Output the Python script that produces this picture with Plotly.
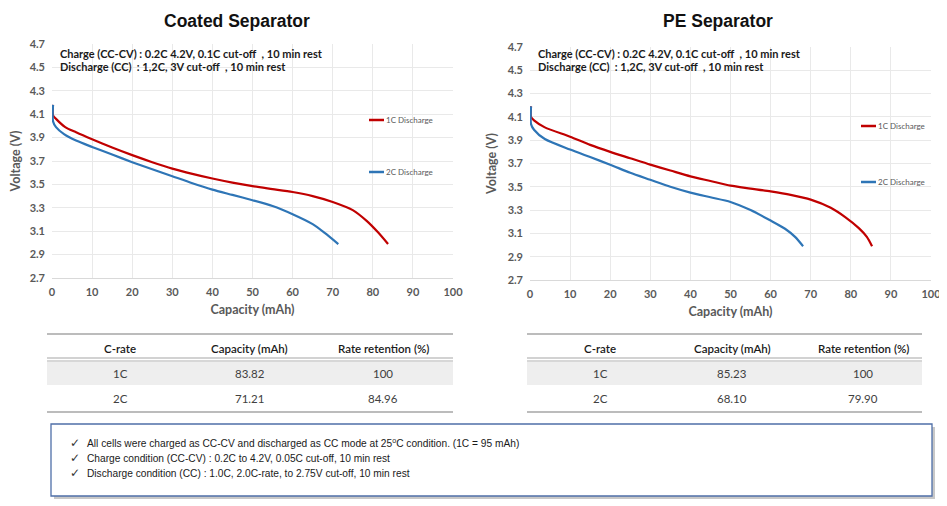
import plotly.graph_objects as go

W, H = 947, 506
OFF = 8  # default page body margin of the html page

# ---------------- data ----------------
coated_1c_cap = [0.25, 0.25, 1, 3.3, 6, 10, 15, 20, 25, 30, 35, 40, 45, 50, 55, 60, 65, 70, 75, 78.4, 81.3, 83.8]
coated_1c_v = [4.18, 4.09, 4.06, 3.99, 3.945, 3.885, 3.815, 3.75, 3.69, 3.635, 3.59, 3.55, 3.515, 3.485, 3.46, 3.435, 3.40, 3.35, 3.28, 3.19, 3.09, 2.99]
coated_2c_cap = [0.25, 0.25, 1, 3, 6, 10, 15, 20, 25, 30, 35, 40, 45, 50, 55, 60, 65, 68, 71.4]
coated_2c_v = [4.18, 4.04, 3.99, 3.93, 3.875, 3.82, 3.755, 3.69, 3.63, 3.57, 3.51, 3.455, 3.41, 3.365, 3.315, 3.245, 3.16, 3.085, 2.99]

pe_1c_cap = [0.25, 0.25, 1, 3.7, 10, 15, 20, 25, 30, 35, 40, 45, 50, 55, 60, 65, 70, 75, 78.6, 82, 84, 85.3]
pe_1c_v = [4.19, 4.10, 4.07, 4.01, 3.93, 3.86, 3.80, 3.745, 3.69, 3.64, 3.59, 3.55, 3.51, 3.485, 3.46, 3.43, 3.39, 3.32, 3.24, 3.145, 3.07, 2.99]
pe_2c_cap = [0.25, 0.25, 1, 3.7, 10, 15, 20, 25, 30, 35, 40, 45, 50, 55, 60, 63.6, 66.1, 68.1]
pe_2c_v = [4.19, 4.04, 3.99, 3.91, 3.82, 3.755, 3.69, 3.62, 3.56, 3.50, 3.45, 3.41, 3.37, 3.30, 3.21, 3.14, 3.07, 2.99]

panel_titles = ["Coated Separator", "PE Separator"]
series_names = ["1C Discharge", "2C Discharge"]
cond_lines = ["Charge (CC-CV) : 0.2C 4.2V, 0.1C cut-off  , 10 min rest",
              "Discharge (CC)  : 1,2C, 3V cut-off  , 10 min rest"]

x_ticks = [0, 10, 20, 30, 40, 50, 60, 70, 80, 90, 100]
y_ticks = [2.7, 2.9, 3.1, 3.3, 3.5, 3.7, 3.9, 4.1, 4.3, 4.5, 4.7]

table_header = ["C-rate", "Capacity (mAh)", "Rate retention (%)"]
table_rates = ["1C", "2C"]
coated_capacity = ["83.82", "71.21"]
coated_retention = ["100", "84.96"]
pe_capacity = ["85.23", "68.10"]
pe_retention = ["100", "79.90"]

notes = ["All cells were charged as CC-CV and discharged as CC mode at 25<sup>o</sup>C condition. (1C = 95 mAh)",
         "Charge condition (CC-CV) : 0.2C to 4.2V, 0.05C cut-off, 10 min rest",
         "Discharge condition (CC) : 1.0C, 2.0C-rate, to 2.75V cut-off, 10 min rest"]

RED = "#c00000"
BLUE = "#2e75b6"
GRAY = "#595959"
CHART_FONT = "Lato, Open Sans, sans-serif"

FW, FH = W - OFF, H - OFF


def px(x):
    return (x - OFF) / FW


def py(y):
    return 1 - (y - OFF) / FH


fig = go.Figure()

panels = [
    dict(xa="x", ya="y", xd=(52, 453), yd=(44, 278), data=[(coated_1c_cap, coated_1c_v), (coated_2c_cap, coated_2c_v)],
         title_x=237, leg_x=369, leg_y=(120, 172), txt_x=58,
         table_x=(47, 453), cols=(120, 250, 383), cap=coated_capacity, ret=coated_retention),
    dict(xa="x2", ya="y2", xd=(530, 931), yd=(47, 280), data=[(pe_1c_cap, pe_1c_v), (pe_2c_cap, pe_2c_v)],
         title_x=718, leg_x=861, leg_y=(126, 182), txt_x=536,
         table_x=(527, 922), cols=(600, 732, 863), cap=pe_capacity, ret=pe_retention),
]

shapes = []
annotations = []

for i, p in enumerate(panels):
    for (cx, cv), color in zip(p["data"], [RED, BLUE]):
        fig.add_trace(go.Scatter(x=cx, y=cv, mode="lines", xaxis=p["xa"], yaxis=p["ya"],
                                 line=dict(color=color, width=2.2, shape="spline", smoothing=0.7),
                                 showlegend=False, hoverinfo="skip"))
    sfx = "" if i == 0 else "2"
    common_ax = dict(showgrid=True, gridcolor="#e9e9e9", gridwidth=1, zeroline=False, automargin=False,
                     tickfont=dict(family=CHART_FONT, size=11, color=GRAY, weight="bold"),
                     ticks="")
    fig.update_layout(**{
        "xaxis" + sfx: dict(domain=[px(p["xd"][0]), px(p["xd"][1])], range=[0, 100], tickvals=x_ticks,
                            anchor="y" + sfx, showline=True, linecolor="#d9d9d9", linewidth=1,
                            ticklabelstandoff=4,
                            title=dict(text="Capacity (mAh)", standoff=8,
                                       font=dict(family=CHART_FONT, size=12.5, color=GRAY, weight="bold")),
                            **common_ax),
        "yaxis" + sfx: dict(domain=[py(p["yd"][1]), py(p["yd"][0])], range=[2.7, 4.7], tickvals=y_ticks,
                            tickformat=".1f", anchor="x" + sfx, ticklabelstandoff=6, showline=False,
                            title=dict(text="Voltage (V)", standoff=8,
                                       font=dict(family=CHART_FONT, size=12.5, color=GRAY, weight="bold")),
                            **common_ax),
    })
    # panel title
    annotations.append(dict(x=px(p["title_x"]), y=py(21), xref="paper", yref="paper", text=panel_titles[i],
                            showarrow=False, xanchor="center", yanchor="middle",
                            font=dict(family="Liberation Sans Narrow, Arial Narrow, Liberation Sans, Arial", size=17.5,
                                      color="#111111", weight="bold")))
    # condition lines
    for j, line in enumerate(cond_lines):
        annotations.append(dict(x=px(p["txt_x"]), y=py(53 + j * 13), xref="paper", yref="paper", text=line,
                                showarrow=False, xanchor="left", yanchor="middle",
                                font=dict(family=CHART_FONT, size=11, color="#1a1a1a", weight="bold")))
    # legend
    for j, (name, color) in enumerate(zip(series_names, [RED, BLUE])):
        ly = p["leg_y"][j]
        shapes.append(dict(type="line", xref="paper", yref="paper", x0=px(p["leg_x"]), x1=px(p["leg_x"] + 15),
                           y0=py(ly), y1=py(ly), line=dict(color=color, width=2.5)))
        annotations.append(dict(x=px(p["leg_x"] + 15), y=py(ly), xref="paper", yref="paper", text=name,
                                showarrow=False, xanchor="left", yanchor="middle",
                                font=dict(family=CHART_FONT, size=8, color=GRAY)))
    # table
    tx0, tx1 = p["table_x"]
    shapes.append(dict(type="rect", xref="paper", yref="paper", x0=px(tx0), x1=px(tx1), y0=py(385), y1=py(360),
                       line=dict(width=0), fillcolor="#eeeeee", layer="below"))
    for yy, wdt, col in [(334, 1.5, "#a6a6a6"), (358, 1.2, "#a6a6a6"), (361, 1.2, "#bfbfbf"), (412, 1.5, "#a6a6a6")]:
        shapes.append(dict(type="line", xref="paper", yref="paper", x0=px(tx0), x1=px(tx1), y0=py(yy), y1=py(yy),
                           line=dict(color=col, width=wdt)))
    for c, htxt in zip(p["cols"], table_header):
        annotations.append(dict(x=px(c), y=py(348), xref="paper", yref="paper", text=htxt, showarrow=False,
                                xanchor="center", yanchor="middle",
                                font=dict(family=CHART_FONT, size=11.5, color="#1a1a1a", weight=600)))
    for r in range(2):
        row = [table_rates[r], p["cap"][r], p["ret"][r]]
        for c, val in zip(p["cols"], row):
            annotations.append(dict(x=px(c), y=py(373 + r * 25), xref="paper", yref="paper", text=val,
                                    showarrow=False, xanchor="center", yanchor="middle",
                                    font=dict(family=CHART_FONT, size=11.5, color="#404040")))

# bottom note box with shadow
shapes.append(dict(type="rect", xref="paper", yref="paper", x0=px(54), x1=px(935), y0=py(499), y1=py(427),
                   line=dict(width=0), fillcolor="#c8c8c8", layer="below"))
shapes.append(dict(type="rect", xref="paper", yref="paper", x0=px(51), x1=px(932), y0=py(496), y1=py(424),
                   line=dict(color="#4f6fa8", width=1.3), fillcolor="white", layer="below"))
for j, note in enumerate(notes):
    annotations.append(dict(x=px(68), y=py(443 + j * 15), xref="paper", yref="paper", text="✓",
                            showarrow=False, xanchor="left", yanchor="middle",
                            font=dict(family="DejaVu Sans", size=12, color="#333333")))
    annotations.append(dict(x=px(85), y=py(443 + j * 15), xref="paper", yref="paper", text=note,
                            showarrow=False, xanchor="left", yanchor="middle",
                            font=dict(family="Liberation Sans Narrow, Arial Narrow, Liberation Sans", size=10.2,
                                      color="#1a1a1a")))

fig.update_layout(width=FW, height=FH, margin=dict(l=0, r=0, t=0, b=0, autoexpand=False), paper_bgcolor="white",
                  plot_bgcolor="white", shapes=shapes, annotations=annotations, showlegend=False)

fig.write_html("out.html")
